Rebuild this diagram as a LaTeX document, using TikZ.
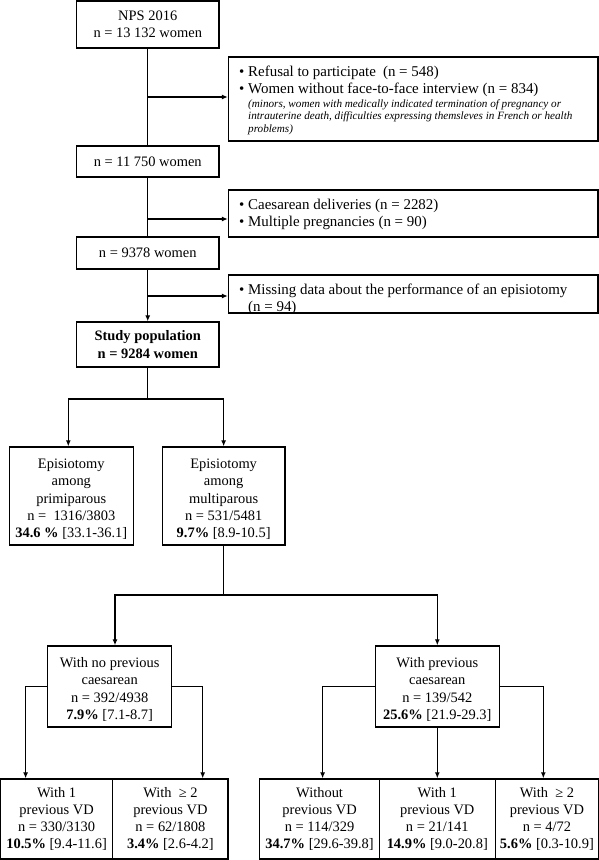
\documentclass[tikz,border=0pt]{standalone}
\usepackage{fontspec}
\setmainfont{Liberation Serif}
\usetikzlibrary{arrows.meta}
\newcommand{\bul}{\makebox[9bp][l]{\textbullet}}
\newcommand{\fl}{\rule{0pt}{16bp}}
\begin{document}
\begin{tikzpicture}[x=1bp,y=-1bp,
  box/.style={draw,line width=1.3bp,inner sep=0pt,align=center,font=\fontsize{14.5}{17.2}\selectfont},
  txt/.style={inner sep=0pt,align=left,font=\fontsize{15}{17}\selectfont},
  conn/.style={line width=1.3bp},
  arr/.style={conn,-{Latex[length=6bp,width=5bp]}}]
\useasboundingbox (0,0) rectangle (599,860);
% main column
\node[box,minimum width=142.5bp,minimum height=47bp] (nps) at (147.75,24.5) {NPS 2016\\n = 13 132 women};
\node[box,minimum width=142.5bp,minimum height=31bp] (n11750) at (147.75,161.5) {n = 11 750 women};
\node[box,minimum width=142.5bp,minimum height=32bp] (n9378) at (147.75,253) {n = 9378 women};
\node[box,minimum width=142.5bp,minimum height=45bp] (study) at (147.75,344.5) {\textbf{Study population}\\\textbf{n = 9284 women}};
% exclusion boxes
\node[box,minimum width=369.5bp,minimum height=84bp] (ex1) at (413.25,99) {};
\node[inner sep=0pt,anchor=north west] (ex1t) at (239,65.5) {\begin{minipage}{355bp}\fontsize{15}{17}\selectfont
\bul Refusal to participate\hspace{7bp}(n = 548)\par
\bul Women without face-to-face interview (n = 834)\par\vspace{2.5bp}
\fontsize{11.2}{12.2}\selectfont\itshape\leftskip=9bp
(minors, women with medically indicated termination of pregnancy or\\
intrauterine death, difficulties expressing themsleves in French or health\\
problems)\par
\end{minipage}};
\node[box,minimum width=369.5bp,minimum height=47bp] (ex2) at (413.25,213.5) {};
\node[txt,anchor=west] (ex2t) at (239,214) {\bul Caesarean deliveries (n = 2282)\\
\bul Multiple pregnancies (n = 90)};
\node[box,minimum width=369.5bp,minimum height=38bp] (ex3) at (413.25,294) {};
\node[txt,anchor=west] (ex3t) at (239,299.5) {\bul Missing data about the performance of an episiotomy\\
\hspace*{9bp}(n = 94)};
% second level
\node[box,minimum width=124bp,minimum height=98bp] (prim) at (71.3,496) {\fl Episiotomy\\among\\primiparous\\n =~ 1316/3803\\\textbf{34.6 \%} [33.1-36.1]};
\node[box,minimum width=122.7bp,minimum height=98bp] (multi) at (223.65,496) {\fl Episiotomy\\among\\multiparous\\n = 531/5481\\\textbf{9.7\%} [8.9-10.5]};
% third level
\node[box,minimum width=124bp,minimum height=81bp] (noprev) at (109.7,686.5) {\fl With no previous\\caesarean\\n = 392/4938\\\textbf{7.9\%} [7.1-8.7]};
\node[box,minimum width=124bp,minimum height=81bp] (prev) at (437.3,686.5) {\fl With previous\\caesarean\\n = 139/542\\\textbf{25.6\%} [21.9-29.3]};
% bottom level
\node[box,minimum width=112.2bp,minimum height=80bp] (b1) at (56.6,819) {With 1\\previous VD\\n = 330/3130\\\textbf{10.5\%} [9.4-11.6]};
\node[box,minimum width=115.4bp,minimum height=80bp] (b2) at (170.4,819) {With~ ≥ 2\\previous VD\\n = 62/1808\\\textbf{3.4\%} [2.6-4.2]};
\node[box,minimum width=119.6bp,minimum height=80bp] (b3) at (319.6,819) {Without\\previous VD\\n = 114/329\\\textbf{34.7\%} [29.6-39.8]};
\node[box,minimum width=115.8bp,minimum height=80bp] (b4) at (437.3,819) {With 1\\previous VD\\n = 21/141\\\textbf{14.9\%} [9.0-20.8]};
\node[box,minimum width=103.4bp,minimum height=80bp] (b5) at (546.9,819) {With~ ≥ 2\\previous VD\\n = 4/72\\\textbf{5.6\%} [0.3-10.9]};
% connectors main column
\coordinate (j1) at (147.75,97);
\coordinate (j2) at (147.75,219);
\coordinate (j3) at (147.75,296);
\draw[conn] (nps) -- (n11750);
\draw[conn] (n11750) -- (n9378);
\draw[arr] (n9378) -- (study);
\draw[arr] (j1) -- (j1 -| ex1.west);
\draw[arr] (j2) -- (j2 -| ex2.west);
\draw[arr] (j3) -- (j3 -| ex3.west);
% study split
\coordinate (s1) at (147.75,399);
\draw[conn] (study) -- (s1);
\draw[arr] (s1) -| ([xshift=-3bp]prim.north);
\draw[arr] (s1) -| (multi.north);
% multi split
\coordinate (m1) at (223.65,595);
\draw[conn] (multi) -- (m1);
\draw[arr] (m1) -| ([xshift=5.3bp]noprev.north);
\draw[arr] (m1) -| (prev.north);
% third level splits
\draw[arr] (noprev.west) -| ([xshift=-31bp]b1.north);
\draw[arr] (noprev.east) -| ([xshift=32.3bp]b2.north);
\draw[arr] (prev.west) -| ([xshift=3bp]b3.north);
\draw[arr] (prev.south) -- (b4.north);
\draw[arr] (prev.east) -| ([xshift=-3.6bp]b5.north);
\end{tikzpicture}
\end{document}
